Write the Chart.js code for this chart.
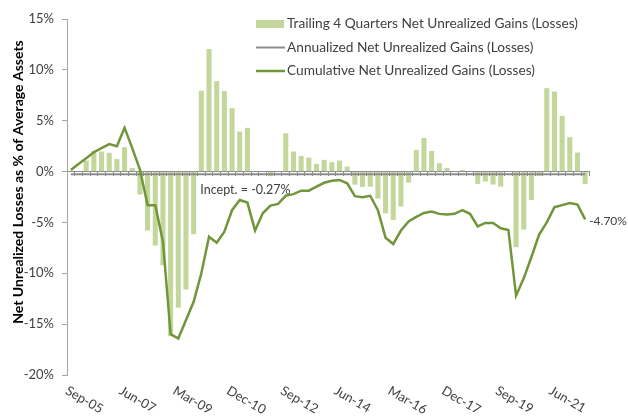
<!DOCTYPE html>
<html>
<head>
<meta charset="utf-8">
<script src="https://cdn.jsdelivr.net/npm/chart.js@4.4.1/dist/chart.umd.min.js"></script>
<style>
  html, body { margin: 0; padding: 0; background: #fff; }
  canvas { display: block; }
</style>
</head>
<body>
<canvas id="chart" width="628" height="416"></canvas>
<script>
// quarterly categories, Sep-05 .. Jun-22
const quarters = [
  'Sep-05','Dec-05','Mar-06','Jun-06','Sep-06','Dec-06','Mar-07','Jun-07',
  'Sep-07','Dec-07','Mar-08','Jun-08','Sep-08','Dec-08','Mar-09','Jun-09',
  'Sep-09','Dec-09','Mar-10','Jun-10','Sep-10','Dec-10','Mar-11','Jun-11',
  'Sep-11','Dec-11','Mar-12','Jun-12','Sep-12','Dec-12','Mar-13','Jun-13',
  'Sep-13','Dec-13','Mar-14','Jun-14','Sep-14','Dec-14','Mar-15','Jun-15',
  'Sep-15','Dec-15','Mar-16','Jun-16','Sep-16','Dec-16','Mar-17','Jun-17',
  'Sep-17','Dec-17','Mar-18','Jun-18','Sep-18','Dec-18','Mar-19','Jun-19',
  'Sep-19','Dec-19','Mar-20','Jun-20','Sep-20','Dec-20','Mar-21','Jun-21',
  'Sep-21','Dec-21','Mar-22','Jun-22'
];
const tickLabels = ['Sep-05','Jun-07','Mar-09','Dec-10','Sep-12','Jun-14','Mar-16','Dec-17','Sep-19','Jun-21'];

const trailing4Q = [
  null, null, 1.08, 2.05, 1.97, 1.84, 1.23, 2.39,
  0.35, -2.26, -5.8, -7.28, -9.2, -16.2, -13.4, -11.6,
  -6.16, 7.95, 12.05, 8.9, 7.93, 6.23, 3.93, 4.3,
  0, 0, -0.45, 0, 3.77, 1.97, 1.54, 1.38,
  0.75, 1.15, 0.92, 1.08, 0.49, -1.28, -1.51, -1.49,
  -2.66, -4.1, -4.75, -3.44, -1.08, 2.13, 3.3, 2.03,
  0.82, 0.35, 0, 0.15, 0, -1.21, -0.98, -1.28,
  -1.48, 0, -7.44, -5.7, -2.79, -0.42, 8.2, 7.87,
  5.48, 3.38, 1.87, -1.21
];
const cumulative = [
  0.16, 0.75, 1.3, 1.9, 2.3, 2.7, 2.5, 4.3,
  2.3, 0.2, -3.3, -3.3, -6.9, -16.0, -16.4, -14.6,
  -12.8, -10.0, -6.4, -7.0, -5.9, -3.8, -2.8, -3.05,
  -5.8, -4.1, -3.34, -3.18, -2.36, -2.22, -1.88, -1.88,
  -1.48, -1.1, -0.9, -0.82, -1.15, -2.42, -2.52, -2.38,
  -3.8, -6.5, -7.12, -5.8, -4.9, -4.45, -4.07, -3.93,
  -4.16, -4.22, -4.15, -3.8, -4.15, -5.4, -5.05, -5.05,
  -5.57, -5.74, -12.2, -10.5, -8.4, -6.2, -5.0, -3.5,
  -3.3, -3.1, -3.25, -4.70
];
const inceptionAnnualized = -0.27;

const yTicks = [-20, -15, -10, -5, 0, 5, 10, 15];

const barColor = '#c4d79b';
const lineColor = '#71963a';
const grayLine = '#8c8c8c';
const textColor = '#404040';
const fontFamily = 'Lato, "Open Sans", sans-serif';

const overlay = {
  id: 'overlay',
  afterDraw(chart) {
    const { ctx, chartArea, scales: { x, y } } = chart;
    ctx.save();

    // rotated category labels under the plot
    ctx.font = '13px ' + fontFamily;
    ctx.fillStyle = textColor;
    ctx.textAlign = 'left';
    ctx.textBaseline = 'top';
    tickLabels.forEach(lbl => {
      const px = x.getPixelForValue(quarters.indexOf(lbl));
      ctx.save();
      ctx.translate(px - 1, chartArea.bottom + 9);
      ctx.rotate(Math.PI / 6);
      ctx.fillText(lbl, 0, 0);
      ctx.restore();
    });

    // y axis title
    ctx.save();
    ctx.translate(18, 182);
    ctx.rotate(-Math.PI / 2);
    ctx.font = 'bold 14px ' + fontFamily;
    ctx.fillStyle = '#000';
    ctx.textAlign = 'center';
    ctx.textBaseline = 'middle';
    ctx.fillText('Net Unrealized Losses as % of Average Assets', 0, 0);
    ctx.restore();

    // legend
    const lx = 256, rows = [24, 47.5, 71];
    ctx.font = '13.7px ' + fontFamily;
    ctx.textBaseline = 'middle';
    ctx.textAlign = 'left';
    chart.data.datasets.slice().reverse().forEach((ds, i) => {
      const ry = rows[i];
      if (ds.type === 'bar') {
        ctx.fillStyle = ds.backgroundColor;
        ctx.fillRect(lx, ry - 4, 28, 8);
      } else {
        ctx.strokeStyle = ds.borderColor;
        ctx.lineWidth = ds.borderWidth;
        ctx.beginPath();
        ctx.moveTo(lx, ry);
        ctx.lineTo(lx + 29, ry);
        ctx.stroke();
      }
      ctx.fillStyle = textColor;
      ctx.fillText(ds.label, lx + 31, ry);
    });

    // annotations
    ctx.font = '12.5px ' + fontFamily;
    ctx.fillText('Incept. = ' + inceptionAnnualized.toFixed(2) + '%',
      x.getPixelForValue(17) - 1, y.getPixelForValue(inceptionAnnualized) + 16);
    const last = cumulative.length - 1;
    ctx.font = '12px ' + fontFamily;
    ctx.fillText(cumulative[last].toFixed(2) + '%',
      x.getPixelForValue(last) + 4, y.getPixelForValue(cumulative[last]) + 2);

    ctx.restore();
  }
};

new Chart(document.getElementById('chart'), {
  data: {
    labels: quarters,
    datasets: [
      {
        type: 'line',
        label: 'Cumulative Net Unrealized Gains (Losses)',
        data: cumulative,
        borderColor: lineColor,
        borderWidth: 2.5,
        pointRadius: 0,
        tension: 0,
        order: 0
      },
      {
        type: 'line',
        label: 'Annualized Net Unrealized Gains (Losses)',
        data: quarters.map(() => inceptionAnnualized),
        borderColor: grayLine,
        borderWidth: 2,
        pointRadius: 0,
        order: 1
      },
      {
        type: 'bar',
        label: 'Trailing 4 Quarters Net Unrealized Gains (Losses)',
        data: trailing4Q,
        backgroundColor: barColor,
        categoryPercentage: 1,
        barPercentage: 0.66,
        order: 2
      }
    ]
  },
  options: {
    responsive: false,
    animation: false,
    layout: { padding: { left: 0, right: 39, top: 19, bottom: 41 } },
    plugins: {
      legend: { display: false },
      tooltip: { enabled: false }
    },
    scales: {
      x: {
        type: 'category',
        position: { y: 0 },
        offset: true,
        grid: {
          offset: true,
          drawOnChartArea: false,
          drawTicks: true,
          tickLength: 4,
          color: '#8c8c8c'
        },
        border: { color: '#8c8c8c', width: 1 },
        ticks: { display: false }
      },
      y: {
        min: -20,
        max: 15,
        afterFit: scale => { scale.width = 67; },
        afterBuildTicks: scale => { scale.ticks = yTicks.map(v => ({ value: v })); },
        grid: {
          drawOnChartArea: false,
          tickLength: 5,
          color: '#a6a6a6'
        },
        border: { color: '#a6a6a6', width: 1 },
        ticks: {
          padding: 8,
          color: textColor,
          font: { family: fontFamily, size: 13 },
          callback: v => v + '%'
        }
      }
    }
  },
  plugins: [overlay]
});
</script>
</body>
</html>
